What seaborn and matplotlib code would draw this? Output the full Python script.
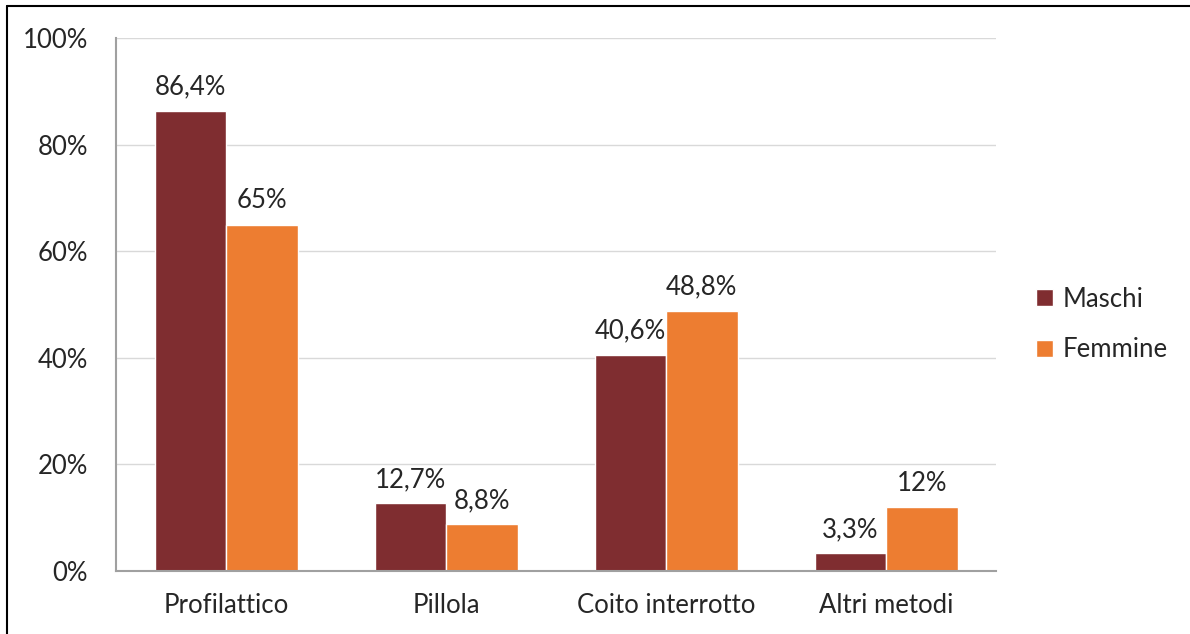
import seaborn as sns
import matplotlib.pyplot as plt
import pandas as pd
from matplotlib.patches import Patch

categorie = ["Profilattico", "Pillola", "Coito interrotto", "Altri metodi"]
maschi = [86.4, 12.7, 40.6, 3.3]
femmine = [65.0, 8.8, 48.8, 12.0]
etichette_maschi = ["86,4%", "12,7%", "40,6%", "3,3%"]
etichette_femmine = ["65%", "8,8%", "48,8%", "12%"]
generi = ["Maschi", "Femmine"]
colori = ["#7F2D30", "#ED7D31"]
yticks = [0, 20, 40, 60, 80, 100]

df = pd.DataFrame({
    "Metodo": categorie * 2,
    "Genere": ["Maschi"] * 4 + ["Femmine"] * 4,
    "Valore": maschi + femmine,
})

sns.set_style("white")
plt.rcParams["font.family"] = ["Lato", "DejaVu Sans"]
fs = 18.5

fig = plt.figure(figsize=(11.9, 6.34), dpi=100)
ax = fig.add_axes([0.0975, 0.0994, 0.7395, 0.8406])
sns.barplot(data=df, x="Metodo", y="Valore", hue="Genere", order=categorie,
            hue_order=generi, palette=colori, width=0.65, saturation=1,
            ax=ax, legend=False)

ax.set_ylim(0, 100)
ax.set_xlim(-0.5, 3.5)
ax.set_yticks(yticks)
ax.set_yticklabels([f"{v}%" for v in yticks], fontsize=fs)
ax.tick_params(axis="y", length=0, pad=20)
ax.tick_params(axis="x", length=0, pad=16, labelsize=fs)
ax.set_xlabel("")
ax.set_ylabel("")
ax.yaxis.grid(True, color="#D9D9D9", linewidth=1)
ax.set_axisbelow(True)
for s in ["top", "right"]:
    ax.spines[s].set_visible(False)
for s in ["left", "bottom"]:
    ax.spines[s].set_color("#A0A0A0")
    ax.spines[s].set_linewidth(1.5)

for cont, labels in zip(ax.containers, [etichette_maschi, etichette_femmine]):
    ax.bar_label(cont, labels=labels, padding=8, fontsize=fs)

handles = [Patch(facecolor=c, label=g) for c, g in zip(colori, generi)]
fig.legend(handles=handles, loc="center left", bbox_to_anchor=(0.851, 0.488),
           frameon=False, fontsize=fs, handlelength=0.65, handleheight=0.65,
           handletextpad=0.4, labelspacing=1.0)

# cornice del grafico
fig.add_artist(plt.Line2D([0.006, 1.0], [0.99, 0.99], color="black", linewidth=1.5))
fig.add_artist(plt.Line2D([0.006, 0.006], [0.0, 0.99], color="black", linewidth=1.5))

fig.savefig("out.png", dpi=100)
plt.close(fig)
